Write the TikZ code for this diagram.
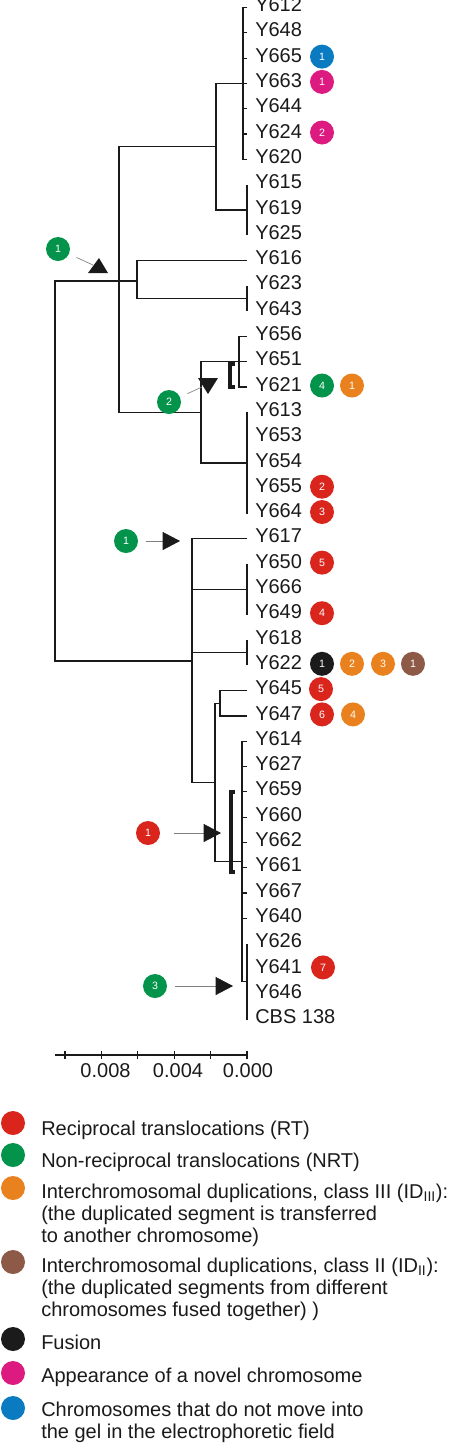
\documentclass[tikz,border=0pt]{standalone}
\usepackage{fontspec}
\setmainfont{Liberation Sans}
\usepackage{xcolor}
\usepackage{tikz}
\usetikzlibrary{arrows.meta}
\definecolor{cInk}{HTML}{1A1A1A}
\definecolor{cGray}{HTML}{808080}
\definecolor{cRT}{HTML}{DA251D}
\definecolor{cNRT}{HTML}{03934A}
\definecolor{cDup}{HTML}{E9821E}
\definecolor{cDupII}{HTML}{8C5A47}
\definecolor{cFus}{HTML}{1B1B1B}
\definecolor{cNov}{HTML}{DC1A80}
\definecolor{cGel}{HTML}{0A7BC1}
\tikzset{
  taxon/.style={anchor=west,inner sep=0pt,font=\fontsize{15}{15}\selectfont,text=cInk,text height=10.7pt,text depth=4.5pt},
  badge/.style={circle,fill=#1,minimum size=18pt,inner sep=0pt,text=white,font=\fontsize{8}{8}\selectfont},
  badge/.default=cRT,
  legdot/.style={circle,fill=#1,minimum size=18pt,inner sep=0pt},
  legtext/.style={anchor=base west,inner sep=0pt,align=left,font=\fontsize{15}{16.3}\selectfont,text=cInk},
  sclabel/.style={font=\fontsize{15}{15}\selectfont,text=cInk,inner sep=0pt},
  br/.style={line width=0.9pt,color=cInk},
  bkt/.style={line width=2.4pt,color=cInk},
  ptr/.style={line width=0.5pt,color=cGray,shorten <=6pt},
  ptrhead/.style={ptr,-{Triangle[length=13pt,width=13.5pt,color=cInk]}},
}

\begin{document}
\begin{tikzpicture}[x=0.75pt,y=-0.75pt]
    \useasboundingbox (0,0) rectangle (450,1443);
    \foreach \n [count=\i from 0] in {Y612,Y648,Y665,Y663,Y644,Y624,Y620,Y615,Y619,Y625,Y616,Y623,Y643,Y656,Y651,Y621,Y613,Y653,Y654,Y655,Y664,Y617,Y650,Y666,Y649,Y618,Y622,Y645,Y647,Y614,Y627,Y659,Y660,Y662,Y661,Y667,Y640,Y626,Y641,Y646,CBS 138}
      \node[taxon] (t\i) at (255,{7.5+25.3*\i}) {\n};
    % inner nodes of the tree
    \coordinate (nA) at (243,83.4);
    \coordinate (nB) at (247,209.9);
    \coordinate (nAB) at (216,146.7);
    \coordinate (nC2) at (247,298.5);
    \coordinate (nC) at (137,281);
    \coordinate (nD) at (239,361.7);
    \coordinate (nE) at (247,462.9);
    \coordinate (nDE) at (201,412.3);
    \coordinate (nX) at (119,281);
    \coordinate (nF1) at (247,589.4);
    \coordinate (nF2) at (247,652.6);
    \coordinate (nP) at (220,703.2);
    \coordinate (nH) at (247,981.5);
    \coordinate (nG) at (242,861.6);
    \coordinate (nGG) at (215,782.4);
    \coordinate (nF) at (192,661);
    \coordinate (nR) at (55,471);
    \foreach \i in {0,...,6} \draw[br] (247,0 |- t\i) -| (nA);
    \foreach \i in {7,8,9} \draw[br] (247,0 |- t\i) -| (nB);
    \foreach \c in {nA,nB} \draw[br] (\c) -| (nAB);
    \draw[br] (247,0 |- t10) -| (nC);
    \foreach \i in {11,12} \draw[br] (247,0 |- t\i) -| (nC2);
    \draw[br] (nC2) -| (nC);
    \foreach \i in {13,14,15} \draw[br] (247,0 |- t\i) -| (nD);
    \foreach \i in {16,...,20} \draw[br] (247,0 |- t\i) -| (nE);
    \foreach \c in {nD,nE} \draw[br] (\c) -| (nDE);
    \foreach \c in {nAB,nC,nDE} \draw[br] (\c) -| (nX);
    \draw[br] (247,0 |- t21) -| (nF);
    \foreach \i in {22,23,24} \draw[br] (247,0 |- t\i) -| (nF1);
    \foreach \i in {25,26} \draw[br] (247,0 |- t\i) -| (nF2);
    \foreach \i in {27,28} \draw[br] (247,0 |- t\i) -| (nP);
    \foreach \i in {29,...,36} \draw[br] (247,0 |- t\i) -| (nG);
    \foreach \i in {37,...,40} \draw[br] (247,0 |- t\i) -| (nH);
    \draw[br] (nH) -| (nG);
    \foreach \c in {nP,nG} \draw[br] (\c) -| (nGG);
    \foreach \c in {nF1,nF2,nGG} \draw[br] (\c) -| (nF);
    \foreach \c in {nX,nF} \draw[br] (\c) -| (nR);
    \draw[bkt] (235,364) -- (230,364) -- (230,387) -- (235,387);
    \draw[bkt] (235,792) -- (231,792) -- (231,872) -- (235,872);
    % events per strain
    \foreach \i/\x/\c/\k [count=\m] in {2/322/cGel/1, 3/322/cNov/1, 5/322/cNov/2, 15/322/cNRT/4, 15/352/cDup/1, 19/322/cRT/2, 20/322/cRT/3, 22/322/cRT/5, 24/322/cRT/4, 26/322/cFus/1, 26/352/cDup/2, 26/383/cDup/3, 26/413/cDupII/1, 27/321/cRT/5, 28/322/cRT/6, 28/353/cDup/4, 38/323/cRT/7}
      \node[badge=\c] (b\m) at (\x,{6+25.3*\i}) {\k};
    % events on branches
    \node[badge=cNRT] (p1) at (58,249) {1};
    \coordinate (p1e) at (93,265);
    \draw[ptr] (p1) -- (p1e);
    \fill[cInk] (99,258) -- (108,273) -- (88,273) -- cycle;
    \node[badge=cNRT] (p2) at (169,402) {2};
    \coordinate (p2e) at (202,387);
    \draw[ptr] (p2) -- (p2e);
    \fill[cInk] (198,378) -- (218,378) -- (208,394) -- cycle;
    \node[badge=cNRT] (p3) at (126,541) {1};
    \coordinate (p3e) at (180,541);
    \draw[ptrhead] (p3) -- (p3e);
    \node[badge=cRT] (p4) at (148,833) {1};
    \coordinate (p4e) at (221,833);
    \draw[ptrhead,shorten <=10pt] (p4) -- (p4e);
    \node[badge=cNRT] (p5) at (155,986) {3};
    \coordinate (p5e) at (233,986);
    \draw[ptrhead] (p5) -- (p5e);
    % scale
    \draw[br] (55,1055) -- (247,1055);
    \foreach \k in {0,...,5} \draw[br] ({247-36.4*\k},1051) -- ({247-36.4*\k},1059);
    \foreach \x/\v [count=\m] in {105.5/0.008,178/0.004,248/0.000} \node[sclabel] (s\m) at (\x,1071) {\v};
    % legend (base = last line)
    \foreach \y/\b/\c/\t [count=\k] in {1123/1135/cRT/{Reciprocal translocations (RT)}, 1155/1167/cNRT/{Non-reciprocal translocations (NRT)}, 1188/1242/cDup/{Interchromosomal duplications, class III (ID\textsubscript{III}):\\(the duplicated segment is transferred\\to another chromosome)}, 1262/1316/cDupII/{Interchromosomal duplications, class II (ID\textsubscript{II}):\\(the duplicated segments from different\\chromosomes fused together) )}, 1339/1349/cFus/{Fusion}, 1373/1382/cNov/{Appearance of a novel chromosome}, 1408/1438/cGel/{Chromosomes that do not move into\\the gel in the electrophoretic field}}{
      \node[legdot=\c] (d\k) at (13,\y) {};
      \node[legtext] (e\k) at (41,\b) {\t};}
  \end{tikzpicture}
\end{document}
